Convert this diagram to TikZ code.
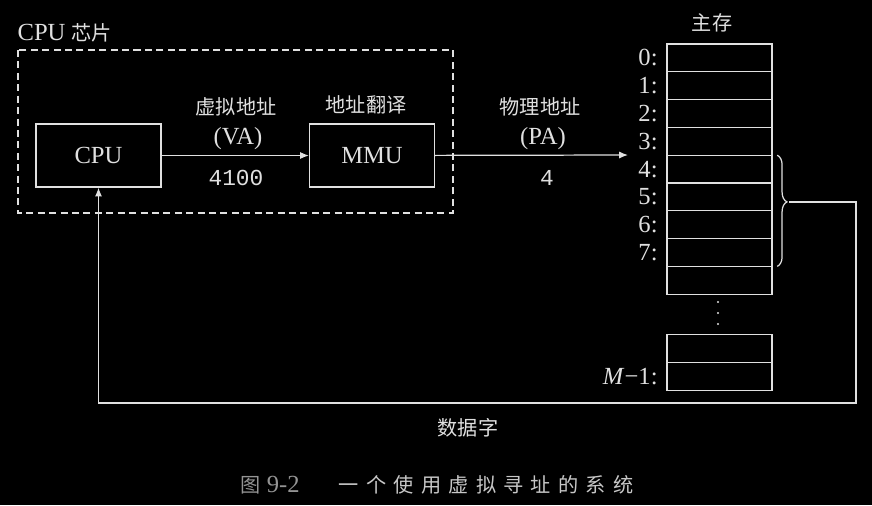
\documentclass[tikz,border=0pt]{standalone}
\usepackage{fontspec}
\setmainfont{Liberation Serif}
\setmonofont{Liberation Mono}
\newfontfamily\cjk[Scale=0.82]{Noto Sans CJK SC}
\newfontfamily\cjkcap[Scale=0.82,LetterSpace=36]{Noto Sans CJK SC}
\usetikzlibrary{arrows.meta,decorations.pathreplacing}
\definecolor{ink}{gray}{0.88}
\definecolor{capgray}{gray}{0.78}
\definecolor{capdim}{gray}{0.58}
\tikzset{
  unitbox/.style={draw=ink,text=ink,minimum width=2.5cm,minimum height=1.26cm,inner sep=0pt},
  memcell/.style={draw=ink,minimum width=2.1cm,minimum height=0.556cm,inner sep=0pt,outer sep=0pt},
  flow/.style={draw=ink,-{Latex[length=5pt,width=4pt]}},
  lbl/.style={text=ink,inner sep=0pt}
}
\begin{document}
\begin{tikzpicture}[x=0.02cm,y=-0.02cm,font=\fontsize{14}{16}\selectfont,line width=0.7pt]

\fill[black] (0,0) rectangle (872,505);
\useasboundingbox (0,0) rectangle (872,505);

% CPU chip
\draw[ink,dash pattern=on 4pt off 2.5pt] (18,50) rectangle (453,213);
\node[lbl,anchor=west] (chip) at (17,33) {CPU {\cjk 芯片}};

\node[unitbox] (cpu) at (98.5,155.5) {CPU};
\node[unitbox] (mmu) at (372,155.5) {MMU};

\draw[flow] (cpu) -- (mmu);
\node[lbl] (va) at (236,107) {\cjk 虚拟地址};
\node[lbl] (vaabbr) at (238,139) {(VA)};
\node[lbl] (vanum) at (236,178) {\ttfamily\fontsize{13}{15}\selectfont 4100};
\node[lbl] (trans) at (366,105) {\cjk 地址翻译};

% main memory
\node[lbl] (mainmem) at (712,23) {\cjk 主存};
\foreach \i in {0,...,8}{
  \node[memcell] (cell\i) at (719.5,{57.9+27.8*\i}) {};
}
\foreach \i in {0,...,7}{
  \node[lbl,anchor=east] (addr\i) at ([xshift=-5pt]cell\i.west) {\i:};
}
\foreach \y in {302,313,324}
  \fill[ink] (718,\y) circle (1.1);
\node[memcell] (cellx) at (719.5,348.5) {};
\node[memcell] (celly) at (719.5,376.3) {};
\node[lbl,anchor=east] (addrm) at ([xshift=-5pt]celly.west) {\textit{M}−1:};

\coordinate (pa) at (628,155);
\draw[flow] (mmu) -- (pa);
\node[lbl] (phys) at (540,107) {\cjk 物理地址};
\node[lbl] (paabbr) at (543,139) {(PA)};
\node[lbl] (panum) at (547,178) {\ttfamily\fontsize{13}{15}\selectfont 4};

% data word back to the CPU
\draw[ink,decorate,decoration={brace,amplitude=5.5pt,aspect=0.42}] ([xshift=3pt]cell4.north east) -- ([xshift=3pt]cell7.south east);
\coordinate (tip) at (789,202);
\coordinate (turn) at (856,202);
\coordinate (low) at (856,403);
\draw[flow] (tip) -- (turn) -- (low) -| (cpu.south);
\node[lbl] (word) at (468,428) {\cjk 数据字};

\node[inner sep=0pt] (caption) at (437,485) {\textcolor{capdim}{{\cjk 图} 9-2}\hspace{1.6em}\textcolor{capgray}{\cjkcap 一个使用虚拟寻址的系统}};

\end{tikzpicture}
\end{document}
